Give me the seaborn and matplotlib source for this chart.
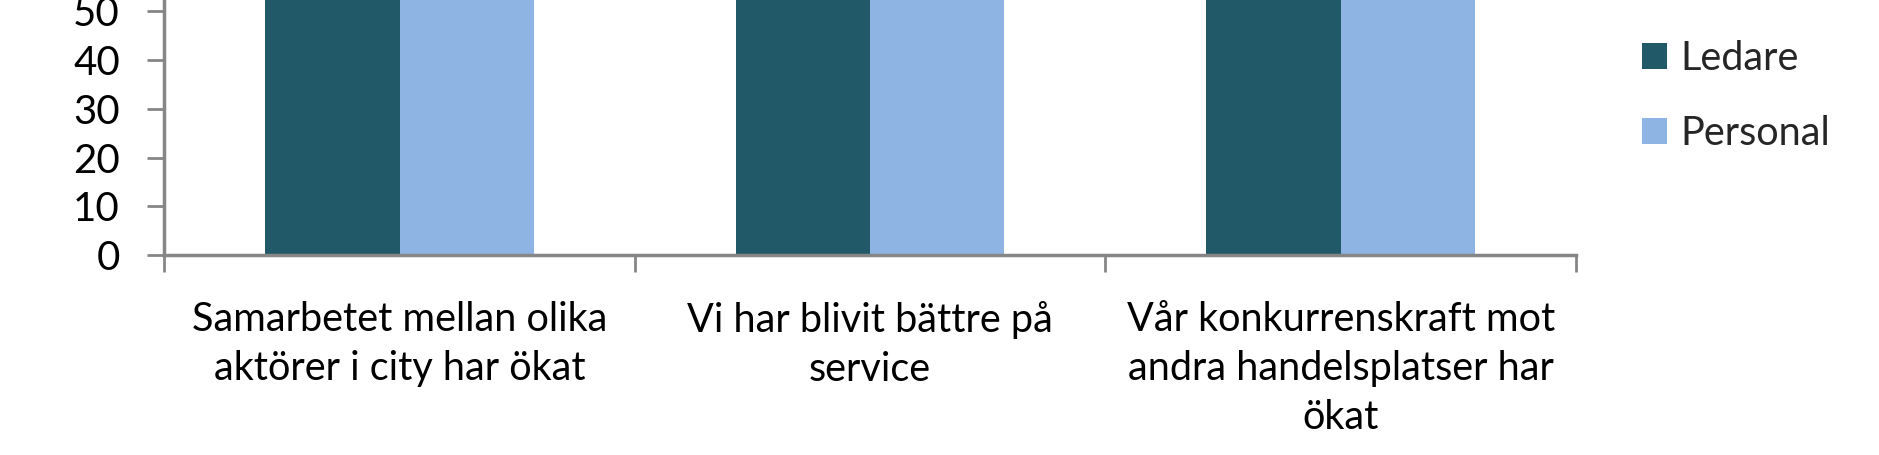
import matplotlib
matplotlib.use("Agg")
import matplotlib.pyplot as plt
import seaborn as sns
import pandas as pd

categories = ["Samarbetet mellan olika\naktörer i city har ökat",
              "Vi har blivit bättre på\nservice",
              "Vår konkurrenskraft mot\nandra handelsplatser har\nökat"]
ledare = [70, 65, 60]
personal = [68, 62, 58]
series_names = ["Ledare", "Personal"]
yticks = [0, 10, 20, 30, 40, 50]

sns.set_theme(style="white")
plt.rcParams['font.family'] = ['Lato', 'DejaVu Sans']

df = pd.DataFrame({
    "cat": categories * 2,
    "val": ledare + personal,
    "serie": [series_names[0]] * 3 + [series_names[1]] * 3,
})

fig = plt.figure(figsize=(18.79, 4.55), dpi=100)
ax = fig.add_axes([0.0874, 0.4395, 0.8387 - 0.0874, 0.5605])
sns.barplot(data=df, x="cat", y="val", hue="serie", ax=ax,
            palette=["#215968", "#8EB4E3"], width=0.571, saturation=1,
            edgecolor="none", linewidth=0)
ax.set_xlim(-0.5, 2.5)
ax.set_ylim(0, 52.3)
ax.set_yticks(yticks)
ax.set_ylabel("")
ax.set_xlabel("")

for s in ["top", "right"]:
    ax.spines[s].set_visible(False)
for s in ["left", "bottom"]:
    ax.spines[s].set_color("#868686")
    ax.spines[s].set_linewidth(2.5)

ax.tick_params(axis="y", which="major", direction="out", length=12, width=2,
               color="#868686", labelsize=29, pad=20, labelcolor="black", left=True)
ax.set_xticks([0, 1, 2])
ax.set_xticklabels(categories, fontsize=28.5, linespacing=1.4)
ax.set_xticks([-0.5, 0.5, 1.5, 2.5], minor=True)
ax.tick_params(axis="x", which="major", length=0, pad=33, labelcolor="black")
ax.tick_params(axis="x", which="minor", direction="out", length=12, width=2,
               color="#868686", bottom=True)

leg = ax.legend(loc="upper left", bbox_to_anchor=(0.855, 0.99),
                bbox_transform=fig.transFigure, frameon=False, fontsize=28.5,
                handlelength=0.62, handleheight=0.62, handletextpad=0.35,
                labelspacing=0.95)

fig.savefig("out.png", dpi=100)
